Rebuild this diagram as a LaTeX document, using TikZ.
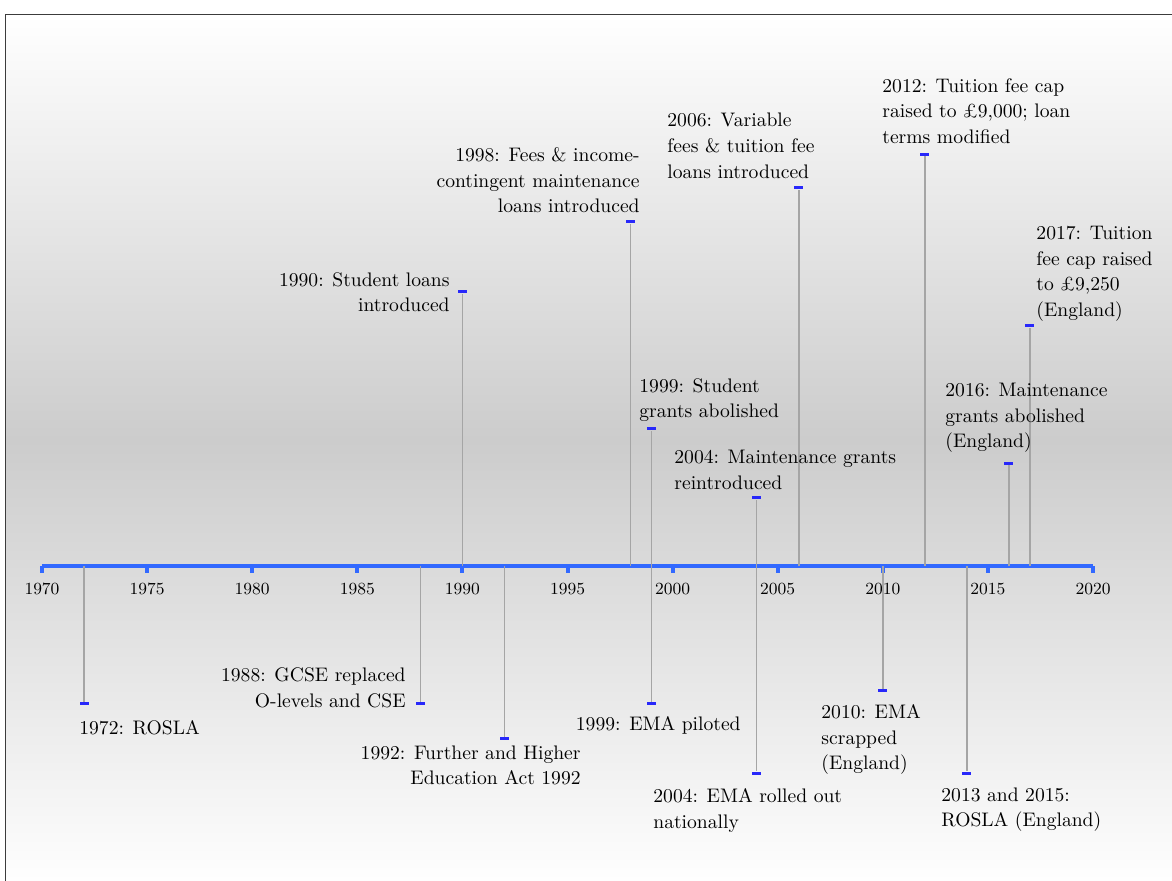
\documentclass[tikz,border=0pt]{standalone}
\usepackage{fontspec}
\definecolor{cAxis}{RGB}{50,105,255}
\definecolor{cMark}{RGB}{40,40,250}
\definecolor{cStem}{RGB}{165,165,165}
\definecolor{cFrame}{RGB}{60,60,60}
\definecolor{cShade}{RGB}{204,204,204}

\begin{document}
\begin{tikzpicture}[
  x=1cm,y=1cm, font=\fontsize{9.8}{12.8}\selectfont,
  evt/.style  ={inner sep=0pt, text=black},
  evtL/.style ={evt, anchor=north west, align=left},
  evtR/.style ={evt, anchor=north east, align=right},
  mk/.style   ={rectangle, fill=cMark, inner sep=0pt,
                minimum width=4.5pt, minimum height=1.5pt},
  yrtick/.style={rectangle, fill=cAxis, inner sep=0pt, anchor=north,
                minimum width=2pt, minimum height=3.5pt},
  yrlab/.style={inner sep=0pt, anchor=north, font=\fontsize{8.5}{10}\selectfont},
  axisline/.style={draw=cAxis, line width=2pt},
  stemline/.style={draw=cStem, line width=0.8pt},
]

% page: 1px = 0.5pt, origin on the axis at 1970, one year = 0.36939
\useasboundingbox (-0.738,-5.518) rectangle (19.857,9.946);
\fill[white] (-0.738,-5.518) rectangle (19.857,9.946);
\shade[top color=white, bottom color=cShade] (-0.633,9.683) rectangle (19.998,2.214);
\shade[top color=cShade, bottom color=white] (-0.633,2.214) rectangle (19.998,-5.694);
\draw[cFrame, line width=0.5pt] (-0.633,-5.694) rectangle (19.998,9.683);

% ----- the time axis, 1970 to 2020 --------------------------------------
\foreach \yr in {1970,1975,...,2020}{
  \pgfmathsetmacro{\xx}{(\yr-1970)*0.36939}
  \coordinate (t\yr) at (\xx,0);
  \node[yrtick] (k\yr) at (t\yr) {};
  \node[yrlab]  (y\yr) at (\xx,-0.299) {\yr};
}
\draw[axisline] (t1970) -- (t2020);

% feet of the stems on the axis
\coordinate (a72) at (0.739,0);
\coordinate (a88) at (6.649,0);
\coordinate (a90) at (7.388,0);
\coordinate (a92) at (8.127,0);
\coordinate (a98) at (10.343,0);
\coordinate (a99) at (10.712,0);
\coordinate (a04) at (12.559,0);
\coordinate (a06) at (13.298,0);
\coordinate (a10) at (14.776,0);
\coordinate (a12) at (15.514,0);
\coordinate (a14) at (16.253,0);
\coordinate (a16) at (16.992,0);
\coordinate (a17) at (17.361,0);

% ----- markers: above the axis -------------------------------------------
\node[mk] (m90)  at (7.388,4.815)  {};
\node[mk] (m98)  at (10.343,6.045) {};
\node[mk] (m99a) at (10.712,2.408) {};
\node[mk] (m04a) at (12.559,1.195) {};
\node[mk] (m06)  at (13.298,6.643) {};
\node[mk] (m12)  at (15.514,7.231) {};
\node[mk] (m16)  at (16.992,1.801) {};
\node[mk] (m17)  at (17.361,4.218) {};

% ----- markers: below the axis -------------------------------------------
\node[mk] (m72)  at (0.739,-2.425)  {};
\node[mk] (m88)  at (6.649,-2.425)  {};
\node[mk] (m92)  at (8.127,-3.040)  {};
\node[mk] (m99b) at (10.712,-2.425) {};
\node[mk] (m04b) at (12.559,-3.638) {};
\node[mk] (m10)  at (14.776,-2.188) {};
\node[mk] (m14)  at (16.253,-3.638) {};

% ----- stems ---------------------------------------------------------------
\draw[stemline] (a90) -- (m90);
\draw[stemline] (a98) -- (m98);
\draw[stemline] (a99) -- (m99a);
\draw[stemline] (a04) -- (m04a);
\draw[stemline] (a06) -- (m06);
\draw[stemline] (a12) -- (m12);
\draw[stemline] (a16) -- (m16);
\draw[stemline] (a17) -- (m17);
\draw[stemline] (a72) -- (m72);
\draw[stemline] (a88) -- (m88);
\draw[stemline] (a92) -- (m92);
\draw[stemline] (a99) -- (m99b);
\draw[stemline] (a04) -- (m04b);
\draw[stemline] (a10) -- (m10);
\draw[stemline] (a14) -- (m14);

% ----- labels above ----------------------------------------------------------
\node[evtR] (l90)  at (7.170,5.166)  {1990: Student loans\\introduced};
\node[evtR] (l98)  at (10.509,7.363) {1998: Fees \& income-\\contingent maintenance\\loans introduced};
\node[evtL] (l99a) at (10.491,3.304) {1999: Student\\grants abolished};
\node[evtL] (l04a) at (11.106,2.038) {2004: Maintenance grants\\reintroduced};
\node[evtL] (l06)  at (10.983,7.961) {2006: Variable\\fees \& tuition fee\\loans introduced};
\node[evtL] (l12)  at (14.761,8.576) {2012: Tuition fee cap\\raised to £9,000; loan\\terms modified};
\node[evtL] (l16)  at (15.868,3.216) {2016: Maintenance\\grants abolished\\(England)};
\node[evtL] (l17)  at (17.468,5.975) {2017: Tuition\\fee cap raised\\to £9,250\\(England)};

% ----- labels below ----------------------------------------------------------
\node[evtL] (l72)  at (0.650,-2.706)  {1972: ROSLA};
\node[evt, anchor=south east, align=right] (l88) at (6.397,-2.495) {1988: GCSE replaced\\O-levels and CSE};
\node[evtR] (l92)  at (9.472,-3.146)  {1992: Further and Higher\\Education Act 1992};
\node[evtR] (l99b) at (12.284,-2.636) {1999: EMA piloted};
\node[evtL] (l04b) at (10.737,-3.901) {2004: EMA rolled out\\nationally};
\node[evtL] (l10)  at (13.689,-2.425) {2010: EMA\\scrapped\\(England)};
\node[evtL] (l14)  at (15.798,-3.884) {2013 and 2015:\\ROSLA (England)};

\end{tikzpicture}
\end{document}
